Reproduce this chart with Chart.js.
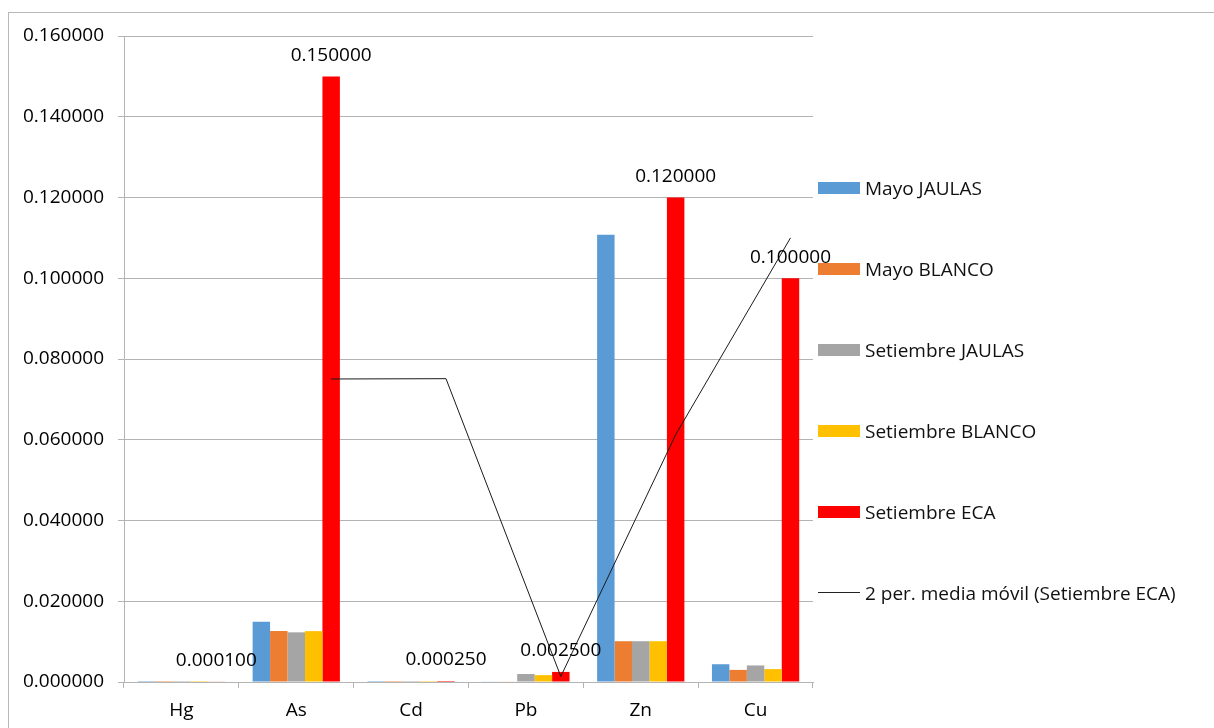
<!DOCTYPE html>
<html>
<head>
<meta charset="utf-8">
<script src="https://cdn.jsdelivr.net/npm/chart.js@4.4.1/dist/chart.umd.min.js"></script>
<style>
    html, body { margin: 0; padding: 0; background: #fff; overflow: hidden; }
    #frame { position: absolute; left: 8px; top: 12px; width: 1210px; height: 800px; border: 1px solid #b8b8b8; }
    #chart { position: absolute; left: 0; top: 0; }
    #legend { position: absolute; left: 818px; top: 147px; font: 19px 'Open Sans', sans-serif; color: #111; }
    #legend .item { height: 81px; display: flex; align-items: center; white-space: nowrap; }
    #legend .swatch { width: 42px; height: 12px; margin-right: 5px; }
    #legend .swatch.line { height: 0; border-top: 1px solid #222; }
</style>
</head>
<body>
<div id="frame"></div>
<canvas id="chart" width="1214" height="728"></canvas>
<div id="legend"></div>
<script>
var categories = ['Hg', 'As', 'Cd', 'Pb', 'Zn', 'Cu'];

var mayoJaulas      = [0.00002, 0.01495, 0.00002, 0.00010, 0.11080, 0.00440];
var mayoBlanco      = [0.00002, 0.01265, 0.00002, 0.00010, 0.01010, 0.00300];
var setiembreJaulas = [0.00002, 0.01230, 0.00002, 0.00198, 0.01010, 0.00410];
var setiembreBlanco = [0.00002, 0.01260, 0.00002, 0.00170, 0.01010, 0.00320];
var setiembreEca    = [0.00010, 0.15000, 0.00025, 0.00250, 0.12000, 0.10000];

// 2 per. media móvil (Setiembre ECA), as drawn in the reference
var mediaMovil = [null, 0.07505, 0.075125, 0.001375, 0.06125, 0.11];

var yTicks = [0, 0.02, 0.04, 0.06, 0.08, 0.10, 0.12, 0.14, 0.16];

var FONT = { family: "'Open Sans', sans-serif", size: 19 };
var GRID = '#b3b3b3';
var ECA_INDEX = 4;

// trendline sits on the ECA bars, not on the category centres
var trendOnEcaBars = {
    id: 'trendOnEcaBars',
    afterDatasetsUpdate: function (chart) {
        var bars = chart.getDatasetMeta(ECA_INDEX).data;
        var line = chart.getDatasetMeta(5).data;
        line.forEach(function (pt, i) {
            if (bars[i]) pt.x = bars[i].x;
        });
    }
};

var ecaLabels = {
    id: 'ecaLabels',
    afterDatasetsDraw: function (chart) {
        var ctx = chart.ctx;
        var meta = chart.getDatasetMeta(ECA_INDEX);
        ctx.save();
        ctx.font = FONT.size + 'px ' + FONT.family;
        ctx.fillStyle = '#000';
        ctx.textAlign = 'center';
        ctx.textBaseline = 'middle';
        meta.data.forEach(function (bar, i) {
            ctx.fillText(setiembreEca[i].toFixed(6), bar.x, bar.y - 21);
        });
        ctx.restore();
    }
};

var chart = new Chart(document.getElementById('chart'), {
    type: 'bar',
    data: {
        labels: categories,
        datasets: [
            { label: 'Mayo JAULAS', data: mayoJaulas, backgroundColor: '#5b9bd5' },
            { label: 'Mayo BLANCO', data: mayoBlanco, backgroundColor: '#ed7d31' },
            { label: 'Setiembre JAULAS', data: setiembreJaulas, backgroundColor: '#a5a5a5' },
            { label: 'Setiembre BLANCO', data: setiembreBlanco, backgroundColor: '#ffc000' },
            { label: 'Setiembre ECA', data: setiembreEca, backgroundColor: '#ff0000' },
            {
                type: 'line',
                label: '2 per. media móvil (Setiembre ECA)',
                data: mediaMovil,
                borderColor: '#1a1a1a',
                borderWidth: 1,
                pointRadius: 0,
                tension: 0,
                order: -1
            }
        ]
    },
    options: {
        responsive: false,
        animation: false,
        devicePixelRatio: 1,
        datasets: { bar: { barPercentage: 1, categoryPercentage: 0.76 } },
        layout: { padding: { top: 36, right: 401, left: 0, bottom: 0 } },
        plugins: {
            legend: { display: false },
            tooltip: { enabled: false }
        },
        scales: {
            x: {
                afterFit: function (scale) { scale.height = 46; },
                border: { display: true, color: GRID },
                grid: { offset: true, drawOnChartArea: false, drawTicks: true, tickLength: 6, color: GRID },
                ticks: { color: '#000', font: FONT, padding: 11 }
            },
            y: {
                min: 0,
                max: 0.16,
                afterFit: function (scale) { scale.width = 124; },
                afterBuildTicks: function (axis) {
                    axis.ticks = yTicks.map(function (v) { return { value: v }; });
                },
                border: { display: true, color: GRID },
                grid: { color: GRID, tickLength: 6 },
                ticks: {
                    color: '#000',
                    font: FONT,
                    padding: 14,
                    callback: function (value) { return Number(value).toFixed(6); }
                }
            }
        }
    },
    plugins: [trendOnEcaBars, ecaLabels]
});

// Legend (vertical, right side)
(function () {
    var box = document.getElementById('legend');
    chart.data.datasets.forEach(function (ds) {
        var item = document.createElement('div');
        item.className = 'item';
        var sw = document.createElement('span');
        if (ds.type === 'line') {
            sw.className = 'swatch line';
        } else {
            sw.className = 'swatch';
            sw.style.background = ds.backgroundColor;
        }
        var txt = document.createElement('span');
        txt.textContent = ds.label;
        item.appendChild(sw);
        item.appendChild(txt);
        box.appendChild(item);
    });
})();
</script>
</body>
</html>
